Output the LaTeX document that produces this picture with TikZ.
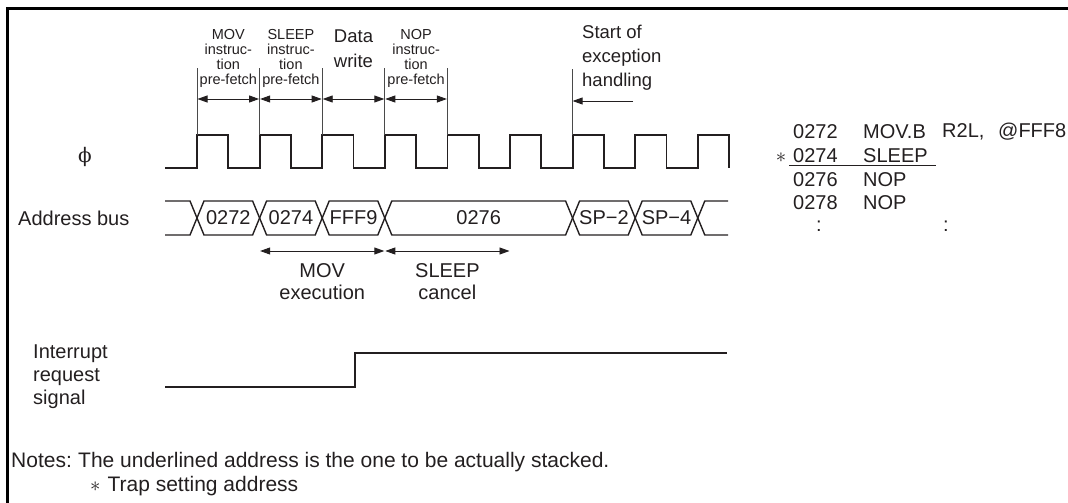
\documentclass[tikz,border=0pt]{standalone}
\usepackage{fontspec}
\setmainfont{Liberation Sans}
\newfontfamily\phifont{DejaVu Serif}
\usepackage{tikz}
\usetikzlibrary{positioning, arrows.meta, calc}
\definecolor{ink}{HTML}{231F20}
\definecolor{guide}{HTML}{4A4A4A}
\tikzset{
  frame line/.style={black, line width=3pt},
  wave/.style={ink, line width=1.8pt, line join=miter},
  bus line/.style={ink, line width=1.4pt, line join=miter},
  guide line/.style={guide, line width=0.8pt},
  span arrow/.style={
    {Triangle[length=10pt,width=7pt]}-{Triangle[length=10pt,width=7pt]},
    ink, line width=0.9pt, shorten <=0.5pt, shorten >=0.5pt
  },
  one arrow/.style={-{Triangle[length=10pt,width=7pt]}, ink, line width=0.9pt},
  phase text/.style={
    text=ink, font=\fontsize{14.5}{15}\selectfont, align=center, inner sep=0pt
  },
  big text/.style={text=ink, font=\fontsize{20}{23}\selectfont, inner sep=0pt},
  bus text/.style={text=ink, font=\fontsize{20}{23}\selectfont, inner sep=0pt},
  code text/.style={text=ink, font=\fontsize{20}{23}\selectfont, inner sep=0pt, anchor=west},
  note text/.style={text=ink, font=\fontsize{21}{23}\selectfont, inner sep=0pt,
    text height=14pt, text depth=3pt, anchor=west}
}

\begin{document}
\begin{tikzpicture}[x=1pt, y=-1pt]
  \useasboundingbox (0,0) rectangle (1068,503);
  \draw[frame line] (1068,9) -- (7,9) -- (7,503);

  % clock edges
  \foreach \k in {0,...,8} {
    \coordinate (r\k) at ({197+62.6*\k},135);
    \coordinate (top\k) at ({197+62.6*\k},68);
    \coordinate (arr\k) at ({197+62.6*\k},99);
  }
  \node[big text, font=\phifont\fontsize{20}{23}\selectfont] (phi) at (85,157) {ϕ};
  \draw[wave] (165,168) foreach \k in {0,...,8} {
    -- ({197+62.6*\k},168) -- ({197+62.6*\k},135)
    -- ({228.3+62.6*\k},135) -- ({228.3+62.6*\k},168)
  };

  % fetch phases
  \foreach \k in {0,...,4}
    \draw[guide line] (r\k) -- (top\k);
  \foreach \k [evaluate=\k as \j using int(\k+1)] in {0,...,3}
    \draw[span arrow] (arr\k) -- (arr\j);
  \node[phase text] (movfetch) at (228.3,58) {MOV\\instruc-\\tion\\pre-fetch};
  \node[phase text] (sleepfetch) at (290.9,58) {SLEEP\\instruc-\\tion\\pre-fetch};
  \node[big text, font=\fontsize{18.5}{25}\selectfont, align=center] (datawrite) at (353.5,49) {Data\\write};
  \node[phase text] (nopfetch) at (416.1,58) {NOP\\instruc-\\tion\\pre-fetch};

  % exception start
  \coordinate (exctop) at ({197+62.6*6},69);
  \coordinate (exchead) at ({197+62.6*6},101);
  \coordinate (exctail) at (633,101);
  \draw[guide line] (r6) -- (exctop);
  \draw[one arrow] (exctail) -- (exchead);
  \node[big text, font=\fontsize{18.5}{24}\selectfont, align=left, anchor=west] (exc) at (582,58)
    {Start of\\exception\\handling};

  % address bus
  \node[big text, anchor=west] (buslabel) at (18,218) {Address bus};
  \def\h{7}
  \draw[bus line] (165,201) -- ({197-\h},201) -- (197,218) -- ({197-\h},235) -- (165,235);
  \foreach \a/\b in {197/259.6, 259.6/322.2, 322.2/384.8, 384.8/572.6, 572.6/635.2, 635.2/697.8}
    \draw[bus line] (\a,218) -- ({\a+\h},201) -- ({\b-\h},201) -- (\b,218)
      -- ({\b-\h},235) -- ({\a+\h},235) -- cycle;
  \draw[bus line] (728,201) -- ({697.8+\h},201) -- (697.8,218) -- ({697.8+\h},235) -- (728,235);
  \node[bus text] (v0272) at (228.3,218) {0272};
  \node[bus text] (v0274) at (290.9,218) {0274};
  \node[bus text] (vfff9) at (353.5,218) {FFF9};
  \node[bus text] (v0276) at (478.7,218) {0276};
  \node[bus text] (vsp2) at (603.9,218) {SP−2};
  \node[bus text] (vsp4) at (666.5,218) {SP−4};

  % execution phases
  \coordinate (ex1) at (259.6,251);
  \coordinate (ex3) at (384.8,251);
  \coordinate (ex5) at (510,251);
  \draw[span arrow] (ex1) -- (ex3);
  \draw[span arrow] (ex3) -- (ex5);
  \node[big text, align=center, font=\fontsize{20}{22}\selectfont] (movexec) at (322.2,282) {MOV\\execution};
  \node[big text, align=center, font=\fontsize{20}{22}\selectfont] (sleepcancel) at (447.4,282) {SLEEP\\cancel};

  % interrupt request
  \node[big text, align=left, anchor=west] (irqlabel) at (33,377) {Interrupt\\request\\signal};
  \coordinate (irqstart) at (165,387);
  \coordinate (irqrise) at (355,387);
  \coordinate (irqhigh) at (355,353);
  \coordinate (irqend) at (727,353);
  \draw[wave] (irqstart) -- (irqrise) -- (irqhigh) -- (irqend);

  % listing
  \node[code text] (a1) at (793,132) {0272};
  \node[code text] (i1) at (863,132) {MOV.B};
  \node[code text] (o1) at (942,132) {R2L,};
  \node[code text] (o2) at (998,132) {@FFF8};
  \node[code text, anchor=center] (trap) at (781,158) {$\ast$};
  \node[code text] (a2) at (793,156) {0274};
  \node[code text] (i2) at (863,156) {SLEEP};
  \coordinate (ulstart) at (789,165);
  \coordinate (ulend) at (936,165);
  \draw[ink, line width=1pt] (ulstart) -- (ulend);
  \node[code text] (a3) at (793,180) {0276};
  \node[code text] (i3) at (863,180) {NOP};
  \node[code text] (a4) at (793,203) {0278};
  \node[code text] (i4) at (863,203) {NOP};
  \node[code text, anchor=center] (dots1) at (819,226) {:};
  \node[code text, anchor=center] (dots2) at (946,226) {:};

  % notes
  \node[note text] (notes) at (11,462) {Notes:};
  \node[note text] (note1) at (78,462) {The underlined address is the one to be actually stacked.};
  \node[note text] (note2) at (90,486) {$\ast$\hspace{7pt}Trap setting address};
\end{tikzpicture}
\end{document}
